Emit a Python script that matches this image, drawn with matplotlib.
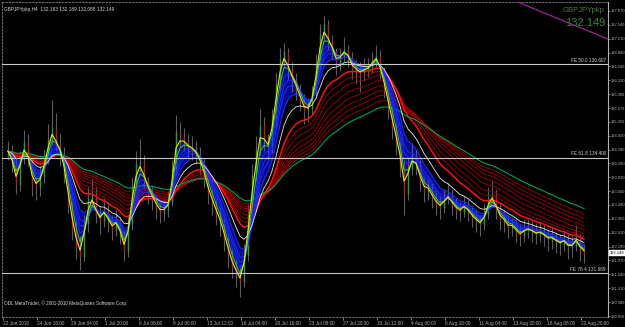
import numpy as np
import pandas as pd
import matplotlib
matplotlib.use('Agg')
import matplotlib.pyplot as plt
import matplotlib.transforms as mtransforms

closes = [134.55, 134.24, 133.76, 134.36, 134.76, 134.36, 133.76, 133.69, 133.93, 134.36,
          134.83, 135.11, 134.71, 134.47, 134.00, 133.29, 132.70, 132.27, 132.06, 132.82,
          133.41, 133.53, 133.05, 132.89, 133.17, 132.89, 132.70, 132.89, 132.58, 132.18,
          132.82, 133.76, 134.24, 134.31, 133.88, 133.57, 133.41, 133.22, 133.10, 133.17,
          133.34, 134.12, 135.02, 134.88, 134.78, 134.64, 134.59, 134.47, 134.24, 133.93,
          133.53, 133.29, 133.05, 132.82, 132.46, 132.10, 131.80, 131.63, 131.46, 132.10,
          133.05, 134.00, 134.59, 135.18, 134.83, 134.64, 135.30, 136.13, 136.73, 136.91,
          136.49, 136.20, 136.01, 135.73, 135.49, 135.54, 135.90, 136.61, 137.32, 137.55,
          137.15, 136.91, 136.61, 136.77, 136.96, 136.77, 136.49, 136.44, 136.39, 136.49,
          136.54, 136.68, 136.80, 136.44, 136.01, 135.54, 135.11, 134.71, 134.24, 133.53,
          134.12, 134.47, 134.24, 133.83, 133.60, 133.65, 133.45, 133.29, 133.22, 133.41,
          133.53, 133.29, 133.17, 133.12, 133.29, 133.12, 132.98, 132.89, 132.82, 133.05,
          133.41, 133.53, 133.17, 132.93, 132.89, 132.74, 132.79, 132.65, 132.55, 132.70,
          132.74, 132.65, 132.58, 132.65, 132.55, 132.46, 132.51, 132.41, 132.36, 132.46,
          132.27, 132.32, 132.51, 132.22, 132.149]
highs = [134.80, 134.70, 134.40, 134.55, 135.05, 134.95, 134.50, 133.95, 134.20, 134.60,
         135.20, 135.75, 135.45, 134.95, 134.65, 134.15, 133.45, 132.90, 132.55, 133.05,
         133.70, 133.90, 133.70, 133.25, 133.45, 133.35, 133.05, 133.15, 133.00, 132.70,
         133.00, 133.95, 134.55, 134.85, 134.45, 133.95, 133.75, 133.55, 133.40, 133.45,
         133.60, 134.35, 135.40, 135.25, 135.10, 134.95, 134.90, 134.80, 134.65, 134.40,
         134.05, 133.70, 133.45, 133.20, 132.95, 132.60, 132.25, 132.00, 131.85, 132.35,
         133.30, 134.25, 134.90, 135.55, 135.35, 134.95, 135.55, 136.40, 137.00, 137.10,
         137.00, 136.65, 136.40, 136.15, 135.90, 135.80, 136.10, 136.85, 137.55, 137.75,
         137.65, 137.30, 137.00, 137.00, 137.25, 137.05, 136.90, 136.70, 136.65, 136.75,
         136.75, 136.90, 137.05, 136.95, 136.55, 136.15, 135.65, 135.25, 134.85, 134.35,
         134.40, 134.75, 134.60, 134.35, 133.95, 133.90, 133.80, 133.60, 133.50, 133.65,
         133.80, 133.65, 133.45, 133.35, 133.50, 133.40, 133.25, 133.15, 133.05, 133.30,
         133.70, 133.85, 133.65, 133.30, 133.15, 133.05, 133.00, 132.95, 132.80, 132.95,
         132.95, 132.90, 132.85, 132.90, 132.80, 132.70, 132.75, 132.65, 132.60, 132.70,
         132.60, 132.55, 132.80, 132.60, 132.35]
lows = [134.35, 134.05, 133.55, 133.62, 134.25, 134.20, 133.50, 133.40, 133.50, 133.80,
        134.25, 134.70, 134.55, 134.20, 133.80, 133.10, 132.45, 132.00, 131.75, 131.95,
        132.65, 133.20, 132.85, 132.60, 132.75, 132.65, 132.45, 132.55, 132.35, 131.95,
        132.05, 132.70, 133.60, 134.05, 133.65, 133.30, 133.15, 132.95, 132.85, 132.90,
        133.00, 133.25, 134.00, 134.65, 134.55, 134.40, 134.35, 134.25, 134.00, 133.70,
        133.30, 133.05, 132.80, 132.55, 132.20, 131.80, 131.55, 131.35, 131.10, 131.35,
        131.95, 132.90, 133.85, 134.45, 134.55, 134.35, 134.50, 135.15, 136.00, 136.55,
        136.25, 135.95, 135.75, 135.50, 135.20, 135.25, 135.40, 135.80, 136.50, 137.15,
        136.95, 136.70, 136.35, 136.45, 136.65, 136.55, 136.25, 136.15, 135.95, 136.20,
        136.30, 136.40, 136.55, 136.25, 135.80, 135.30, 134.85, 134.45, 133.95, 133.05,
        133.40, 134.00, 134.00, 133.60, 133.35, 133.40, 133.20, 133.05, 132.95, 133.10,
        133.30, 133.05, 132.95, 132.90, 133.00, 132.90, 132.75, 132.65, 132.55, 132.70,
        132.95, 133.30, 132.95, 132.70, 132.65, 132.50, 132.55, 132.40, 132.30, 132.40,
        132.50, 132.40, 132.35, 132.40, 132.30, 132.20, 132.25, 132.15, 132.10, 132.20,
        132.00, 132.05, 132.20, 131.95, 131.90]

time_labels = ['22 Jun 2010', '24 Jun 16:00', '29 Jun 04:00', '1 Jul 20:00', '6 Jul 08:00',
               '9 Jul 00:00', '13 Jul 12:00', '16 Jul 04:00', '20 Jul 16:00', '23 Jul 08:00',
               '27 Jul 20:00', '30 Jul 12:00', '4 Aug 00:00', '6 Aug 16:00', '11 Aug 04:00',
               '13 Aug 20:00', '18 Aug 08:00', '22 Aug 20:00']
price_ticks = [137.870, 137.540, 137.210, 136.880, 136.560, 136.230, 135.900, 135.570,
               135.250, 134.920, 134.590, 134.260, 133.930, 133.600, 133.280, 132.950,
               132.620, 132.290, 131.970, 131.640, 131.310, 130.980, 130.650]

fib_names = ['FE 50.0', 'FE 61.8', 'FE 78.4']
fib_levels = [136.607, 134.400, 131.669]

trend_x = [125.5, 150.0]
trend_y = [138.15, 137.20]

symbol = 'GBPJPYpkp'
ohlc_last = [132.183, 132.189, 132.088, 132.149]

# medias do tipo GMMA (periodos em barras de 8h)
fast_spans = [4, 5, 6, 8]
slow_spans = [16, 19, 22, 26, 30, 34, 38, 43]

c = pd.Series(closes)
ema = lambda s: c.ewm(span=s, adjust=False).mean().values

x = np.arange(len(closes))
opens = np.r_[closes[0], closes[:-1]]
cl = np.array(closes)

fig = plt.figure(figsize=(6.25, 3.27), dpi=100, facecolor='black')
ax = fig.add_axes([2/625, 10/327, 606/625, 315/327], facecolor='black')

# preenchimento azul do grupo rapido
grp = np.array([ema(s) for s in [2, 3] + fast_spans])
ax.fill_between(x, grp.min(axis=0), grp.max(axis=0), color='#0a0a8c', lw=0, zorder=1)

# velas
ax.vlines(x, lows, highs, color='#5c5c5c', lw=0.8, zorder=2)
up = cl >= opens
ax.vlines(x[up], opens[up], cl[up], color='#2f9a2f', lw=1.0, zorder=2)
ax.vlines(x[~up], opens[~up], cl[~up], color='#b02020', lw=1.0, zorder=2)

for s in slow_spans[1:]:
    ax.plot(x, ema(s), color='#a80000', lw=0.6, zorder=3)
ax.plot(x, ema(slow_spans[0]), color='#ff1010', lw=1.1, zorder=3)
ax.plot(x, ema(50), color='#00a050', lw=0.8, zorder=3)

for s in fast_spans:
    ax.plot(x, ema(s), color='#1c2cff', lw=0.7, zorder=4)
ax.plot(x, ema(11), color='#e8e8e8', lw=0.6, zorder=4)
ax.plot(x, ema(3), color='#30d030', lw=0.7, zorder=5)
ax.plot(x, ema(2), color='#e8e800', lw=0.8, zorder=5)

# linhas de Fibonacci
for nome, nivel in zip(fib_names, fib_levels):
    ax.axhline(nivel, color='#c8c8c8', lw=0.8, zorder=6)
    ax.text(149.5, nivel + 0.03, '%s %.3f' % (nome, nivel), color='#d0d0d0', fontsize=3.4,
            ha='right', va='bottom', family='Liberation Sans', zorder=7)

ax.plot(trend_x, trend_y, color='#a0209a', lw=0.9, zorder=6)

ax.set_xlim(-1.5, 150)
ax.set_ylim(130.633, 138.076)

ax.yaxis.tick_right()
ax.set_yticks(price_ticks)
ax.set_yticklabels(['%.3f' % p for p in price_ticks])
ax.tick_params(axis='y', colors='#b0b0b0', labelsize=2.9, length=1.5, width=0.5, pad=0.5)
for lab in ax.get_yticklabels():
    lab.set_family('Liberation Sans')

tpos = np.arange(len(time_labels)) * 8.5 - 1.25
ax.set_xticks(tpos)
ax.set_xticklabels(time_labels, ha='left')
ax.tick_params(axis='x', colors='#b0b0b0', labelsize=3.4, length=2, width=0.5, pad=1)
for lab in ax.get_xticklabels():
    lab.set_family('Liberation Sans')

for lado in ['left', 'bottom', 'top']:
    ax.spines[lado].set_color('#808080')
    ax.spines[lado].set_linestyle((0, (2, 2)))
    ax.spines[lado].set_linewidth(0.6)
ax.spines['right'].set_color('#b0b0b0')
ax.spines['right'].set_linewidth(0.8)

# textos
ax.text(0.004, 0.985, '%s,H4  %.3f %.3f %.3f %.3f' % (symbol, *ohlc_last), transform=ax.transAxes,
        color='#d8d8d8', fontsize=3.4, ha='left', va='top', family='Liberation Sans')
ax.text(0.995, 0.985, symbol, transform=ax.transAxes, color='#4a7a4a', fontsize=5.5,
        ha='right', va='top', family='Liberation Sans')
ax.text(0.995, 0.95, '%.3f' % ohlc_last[3], transform=ax.transAxes, color='#2f8f2f', fontsize=8,
        ha='right', va='top', family='Liberation Sans')
ax.text(0.004, 0.035, 'ODL MetaTrader, \u00a9 2001-2010 MetaQuotes Software Corp.', transform=ax.transAxes,
        color='#d8d8d8', fontsize=3.3, ha='left', va='bottom', family='Liberation Sans')

tr = mtransforms.blended_transform_factory(ax.transAxes, ax.transData)
ax.text(1.003, ohlc_last[3], '%.3f' % ohlc_last[3], transform=tr, color='black', fontsize=2.9,
        ha='left', va='center', family='Liberation Sans',
        bbox=dict(facecolor='white', edgecolor='white', pad=0.3))

fig.savefig('out.png', dpi=100, facecolor='black')
